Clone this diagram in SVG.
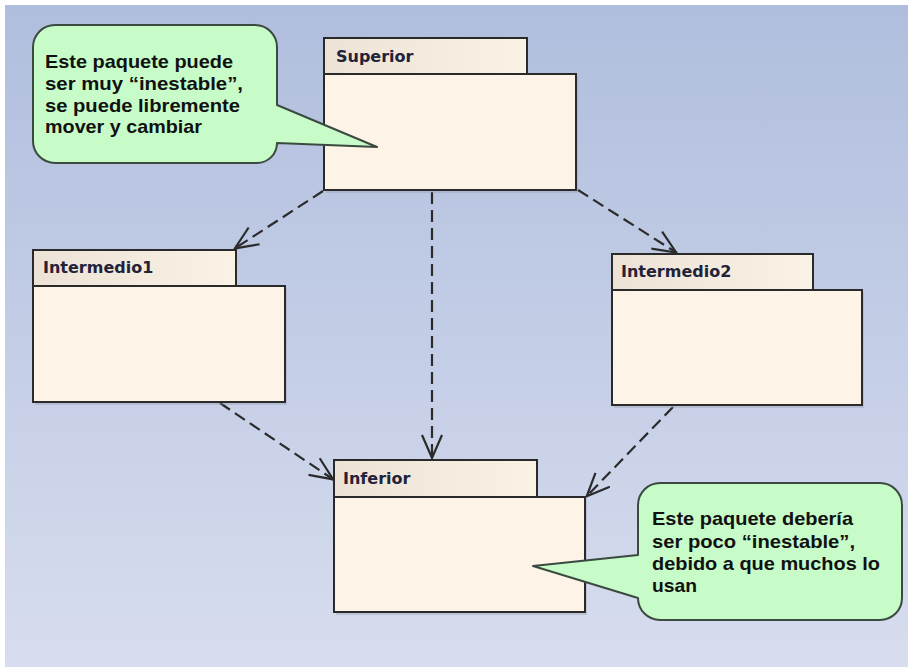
<svg xmlns="http://www.w3.org/2000/svg" width="908" height="667" viewBox="0 0 908 667">
  <defs>
    <linearGradient id="bg" x1="0" y1="0" x2="0" y2="1">
      <stop offset="0" stop-color="#b0bedd"/>
      <stop offset="0.5" stop-color="#c3cde6"/>
      <stop offset="1" stop-color="#d7ddee"/>
    </linearGradient>
    <linearGradient id="tab" x1="0" y1="0" x2="1" y2="0">
      <stop offset="0" stop-color="#ece2d6"/>
      <stop offset="1" stop-color="#fbf2e6"/>
    </linearGradient>
    <marker id="open" viewBox="0 0 26 22" refX="25" refY="11" markerWidth="26" markerHeight="22" markerUnits="userSpaceOnUse" orient="auto">
      <path d="M1,1 L24,11 L1,21" fill="none" stroke="#2b2b2b" stroke-width="2.2" stroke-linejoin="miter"/>
    </marker>
  </defs>
  <style>
    .tab { fill: url(#tab); stroke: #2a2a2a; stroke-width: 2; }
    .body { fill: #fdf3e6; stroke: #2a2a2a; stroke-width: 2; }
    .shadow { fill: #8f97aa; opacity: 0.35; }
    .label { font-family: "DejaVu Sans", Verdana, sans-serif; font-weight: bold; font-size: 16px; fill: #22223a; }
    .note { fill: #c7fbc7; stroke: #3b4a40; stroke-width: 2; stroke-linejoin: round; }
    .noteText { font-family: "Liberation Sans", Arial, sans-serif; font-weight: bold; font-size: 19px; fill: #111111; }
    .dep { fill: none; stroke: #2b2b2b; stroke-width: 2.2; stroke-dasharray: 12 6; marker-end: url(#open); }
  </style>

  <!-- canvas -->
  <rect x="0" y="0" width="908" height="667" fill="#ffffff"/>
  <rect x="5" y="5" width="903" height="662" fill="url(#bg)"/>

  <!-- dependencies -->
  <g id="connectors">
    <line class="dep" x1="323" y1="191" x2="234" y2="249"/>
    <line class="dep" x1="432" y1="192" x2="432" y2="459"/>
    <line class="dep" x1="578" y1="190" x2="677" y2="253"/>
    <line class="dep" x1="220" y1="403" x2="334" y2="480"/>
    <line class="dep" x1="673" y1="407" x2="586" y2="497"/>
  </g>

  <g id="superior">
    <rect class="shadow" x="326" y="76" width="252" height="117"/>
    <rect class="tab" x="324" y="38" width="203" height="36"/>
    <rect class="body" x="324" y="74" width="252" height="116"/>
    <text class="label" x="336" y="62">Superior</text>
  </g>

  <g id="intermedio1">
    <rect class="shadow" x="35" y="288" width="252" height="117"/>
    <rect class="tab" x="33" y="250" width="203" height="36"/>
    <rect class="body" x="33" y="286" width="252" height="116"/>
    <text class="label" x="43" y="273">Intermedio1</text>
  </g>

  <g id="intermedio2">
    <rect class="shadow" x="614" y="292" width="250" height="116"/>
    <rect class="tab" x="612" y="254" width="201" height="36"/>
    <rect class="body" x="612" y="290" width="250" height="115"/>
    <text class="label" x="621" y="277">Intermedio2</text>
  </g>

  <g id="inferior">
    <rect class="shadow" x="336" y="499" width="251" height="116"/>
    <rect class="tab" x="334" y="460" width="203" height="37"/>
    <rect class="body" x="334" y="497" width="251" height="115"/>
    <text class="label" x="343" y="484">Inferior</text>
  </g>

  <g id="note-superior">
    <path class="note" d="M55,25 H255 A22,22 0 0 1 277,47 V105 L377,147 L277,143 A20,20 0 0 1 257,163 H55 A22,22 0 0 1 33,141 V47 A22,22 0 0 1 55,25 Z"/>
    <text class="noteText" x="45" y="68" textLength="188" lengthAdjust="spacingAndGlyphs">Este paquete puede</text>
    <text class="noteText" x="45" y="90" textLength="198" lengthAdjust="spacingAndGlyphs">ser muy “inestable”,</text>
    <text class="noteText" x="45" y="112" textLength="195" lengthAdjust="spacingAndGlyphs">se puede libremente</text>
    <text class="noteText" x="45" y="133" textLength="157" lengthAdjust="spacingAndGlyphs">mover y cambiar</text>
  </g>

  <g id="note-inferior">
    <path class="note" d="M660,483 H880 A22,22 0 0 1 902,505 V598 A22,22 0 0 1 880,620 H660 A22,22 0 0 1 638,598 L533,566 L638,555 V505 A22,22 0 0 1 660,483 Z"/>
    <text class="noteText" x="652" y="525" textLength="201" lengthAdjust="spacingAndGlyphs">Este paquete debería</text>
    <text class="noteText" x="652" y="548" textLength="203" lengthAdjust="spacingAndGlyphs">ser poco “inestable”,</text>
    <text class="noteText" x="652" y="570" textLength="228" lengthAdjust="spacingAndGlyphs">debido a que muchos lo</text>
    <text class="noteText" x="652" y="592" textLength="45" lengthAdjust="spacingAndGlyphs">usan</text>
  </g>
</svg>
